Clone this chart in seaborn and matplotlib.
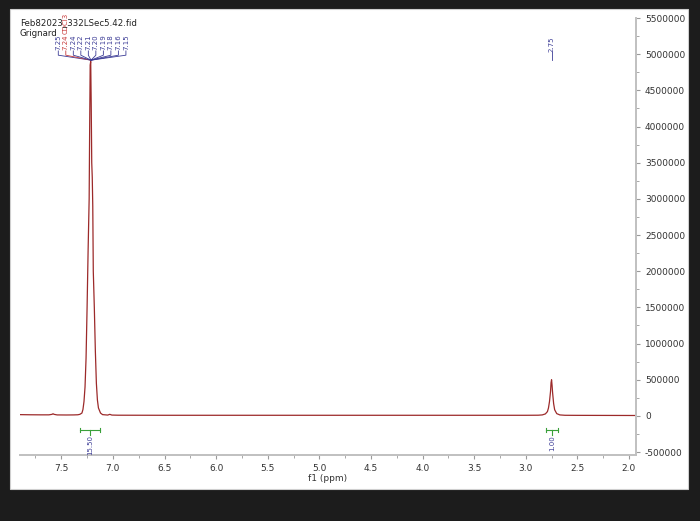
import numpy as np
import pandas as pd
import matplotlib
matplotlib.use('Agg')
import matplotlib.pyplot as plt
from matplotlib.patches import Rectangle
from matplotlib.ticker import MultipleLocator
import seaborn as sns

plt.rcParams['axes.unicode_minus'] = False

# spectrum trace (ppm, intensity)
ppm = [7.90, 7.80, 7.70, 7.62, 7.59, 7.58, 7.57, 7.54, 7.45, 7.38, 7.34, 7.32,
       7.30, 7.29, 7.28, 7.27, 7.26, 7.25, 7.24, 7.23, 7.225, 7.22, 7.215,
       7.21, 7.205, 7.20, 7.195, 7.19, 7.18, 7.17, 7.16, 7.15, 7.14, 7.12,
       7.10, 7.05, 7.03, 7.01, 6.95, 6.50, 6.00, 5.50, 5.00, 4.50, 4.00,
       3.50, 3.00, 2.88, 2.84, 2.81, 2.79, 2.78, 2.77, 2.76, 2.755, 2.75,
       2.745, 2.74, 2.73, 2.72, 2.70, 2.67, 2.62, 2.50, 2.20, 1.93]
intensity = [18000, 16000, 15000, 15000, 22000, 30000, 22000, 14000, 13000, 14000, 16000, 22000,
             40000, 90000, 200000, 400000, 800000, 1500000, 2300000, 3000000, 4000000, 4850000, 4900000,
             4300000, 3500000, 3300000, 2900000, 2000000, 1500000, 900000, 450000, 220000, 110000, 40000,
             18000, 12000, 22000, 12000, 10000, 9000, 9000, 9000, 9000, 9000, 9000,
             9000, 9000, 10000, 14000, 28000, 60000, 110000, 200000, 340000, 460000, 500000,
             420000, 320000, 170000, 85000, 32000, 14000, 9000, 8000, 7000, 6000]

# peak labels
multiplet_labels = ['7.25', '7.24', '7.24', '7.22', '7.21', '7.20', '7.19', '7.18', '7.16', '7.15']
single_label = '2.75'
integrals = [(7.316, 7.121, '15.50'), (2.80, 2.69, '1.00')]

title_lines = ['Feb82023_332LSec5.42.fid', 'Grignard']

W, H = 700, 521
fig = plt.figure(figsize=(W / 100, H / 100), dpi=100, facecolor='#1c1c1c')
fig.patches.append(Rectangle((10 / W, 1 - 489 / H), 678 / W, 480 / H,
                             transform=fig.transFigure, facecolor='white',
                             edgecolor='#cfcfcf', linewidth=0.8, zorder=-10))
ax = fig.add_axes([20 / W, 1 - 455 / H, 616 / W, 437 / H])
ax.set_facecolor('none')

df = pd.DataFrame({'ppm': ppm, 'intensity': intensity})
sns.lineplot(data=df, x='ppm', y='intensity', ax=ax, color='#9c2a2a',
             linewidth=0.9, estimator=None, sort=False)

ax.set_xlim(7.9, 1.932)
ax.set_ylim(-540000, 5500000)
ax.xaxis.set_major_locator(MultipleLocator(0.5))
ax.xaxis.set_minor_locator(MultipleLocator(0.25))
ax.yaxis.set_major_locator(MultipleLocator(500000))
ax.yaxis.set_minor_locator(MultipleLocator(250000))
ax.ticklabel_format(axis='y', style='plain', useOffset=False)
ax.xaxis.set_major_formatter(matplotlib.ticker.FormatStrFormatter('%.1f'))
ax.yaxis.tick_right()
ax.yaxis.set_label_position('right')
for s in ['top', 'left']:
    ax.spines[s].set_visible(False)
for s in ['right', 'bottom']:
    ax.spines[s].set_color('#c0c0c0')
    ax.spines[s].set_linewidth(1.4)
ax.tick_params(axis='both', which='major', labelsize=6.5, colors='#9a9a9a',
               labelcolor='#333333', length=3, width=0.8)
ax.tick_params(axis='both', which='minor', colors='#9a9a9a', length=2, width=0.6)
ax.set_xlabel('f1 (ppm)', fontsize=6.5, color='#333333', labelpad=1)
ax.set_ylabel('')

# file name / title
fig.text(20 / W, 1 - 23 / H, title_lines[0], fontsize=6.2, color='#222222', va='center')
fig.text(20 / W, 1 - 33 / H, title_lines[1], fontsize=6.2, color='#222222', va='center')

# multiplet label fan
blue = '#3c3c96'
red = '#c83c3c'
peak_x = 7.212
spacing = 0.0728
label_center = 7.2015
y_text = 5055000
y_knee = 4986000
y_join = 4917000
for i, lab in enumerate(multiplet_labels):
    lx = label_center + (4.5 - i) * spacing
    c = red if i == 1 else blue
    ax.text(lx, y_text, lab, rotation=90, fontsize=5, color=c, ha='center', va='bottom')
    ax.plot([lx, lx, peak_x], [y_text - 10000, y_knee, y_join], color=c, linewidth=0.6)
ax.text(label_center + 3.5 * spacing, 5275000, 'CDCl3', rotation=90, fontsize=5,
        color=red, ha='center', va='bottom')

ax.text(2.75, y_text - 20000, single_label, rotation=90, fontsize=5, color=blue,
        ha='center', va='bottom')
ax.plot([2.75, 2.75], [y_text - 30000, y_join], color=blue, linewidth=0.6)

# integrals
green = '#3aa03a'
for x0, x1, lab in integrals:
    xm = (x0 + x1) / 2
    ax.plot([x0, x1], [-195000, -195000], color=green, linewidth=0.8)
    for xe in (x0, x1):
        ax.plot([xe, xe], [-165000, -225000], color=green, linewidth=0.8)
    ax.plot([xm, xm], [-195000, -260000], color=green, linewidth=0.8)
    ax.text(xm, -270000, lab, rotation=90, fontsize=5, color=blue, ha='center', va='top')

fig.savefig('out.png', dpi=100, facecolor=fig.get_facecolor())
